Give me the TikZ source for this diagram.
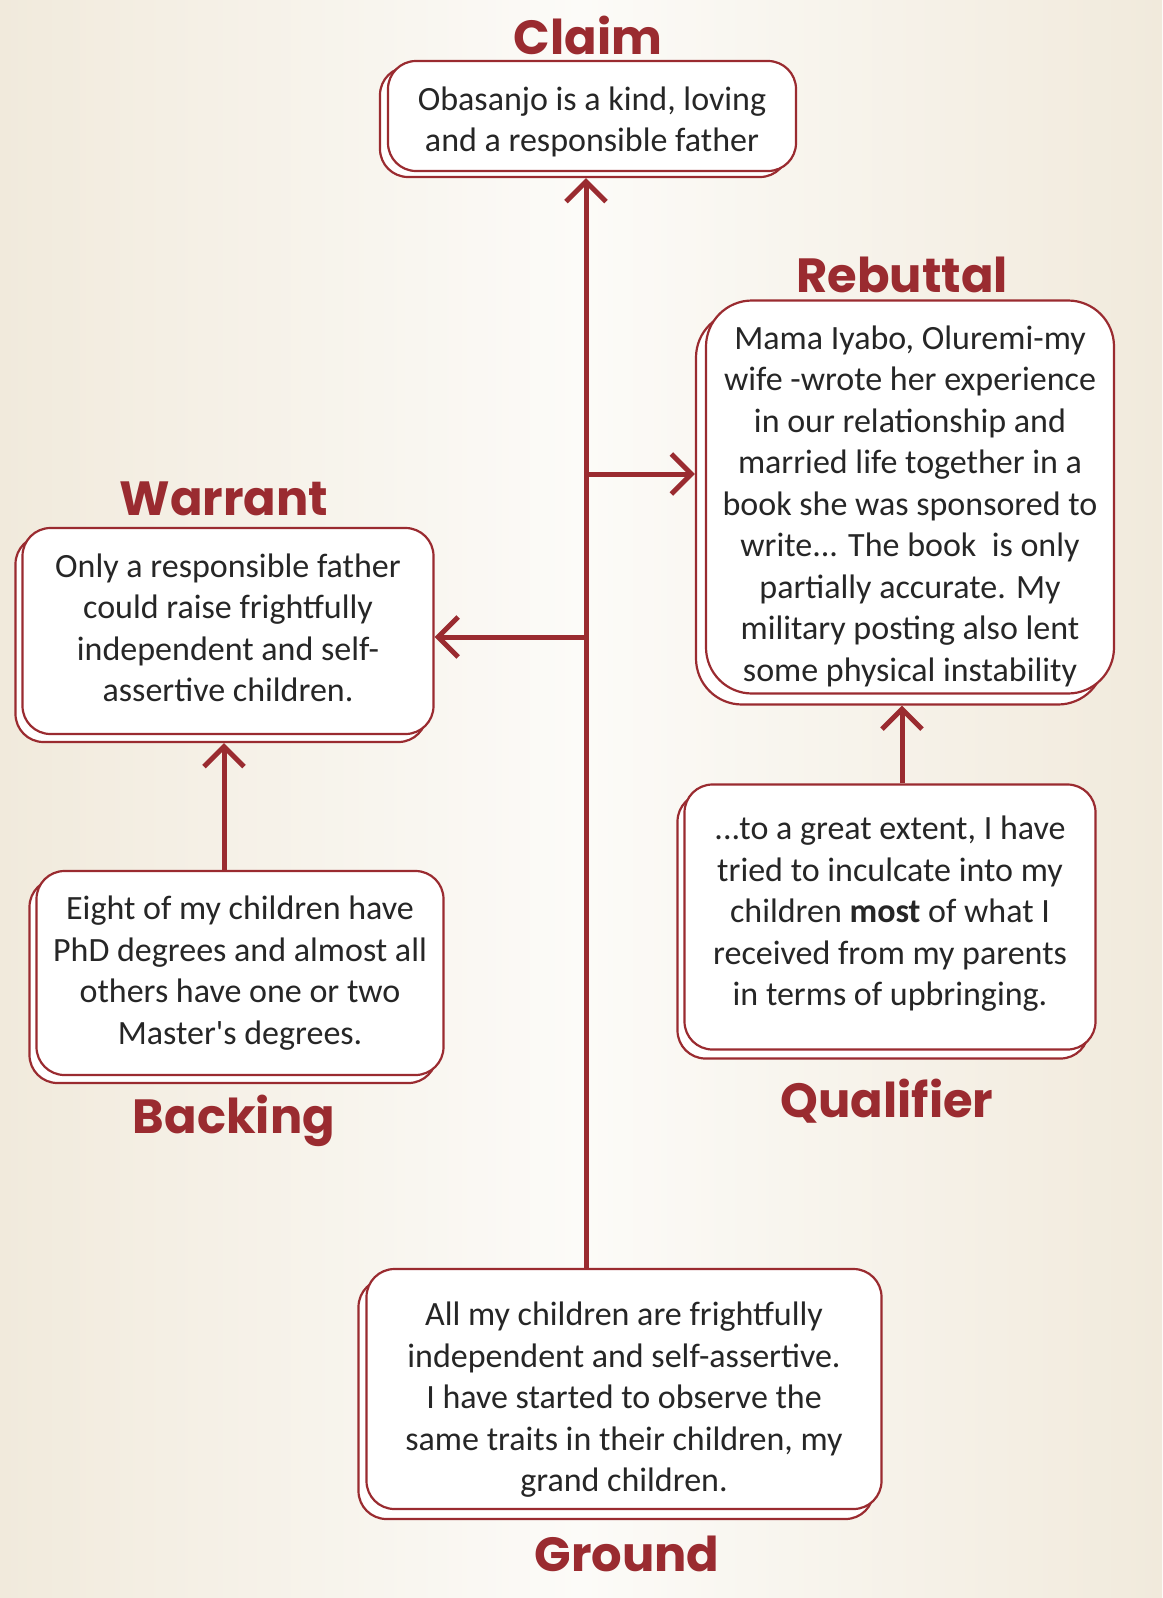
\documentclass[tikz,border=0pt]{standalone}
\usepackage{fontspec}
\setmainfont{Carlito}[Ligatures=TeXOff]
\newfontfamily\headfont{Poppins}
\usetikzlibrary{arrows.meta}
\definecolor{wine}{HTML}{9A2B30}
\definecolor{ink}{HTML}{262626}
\definecolor{bgedge}{HTML}{F1EADC}
\definecolor{bgmid}{HTML}{FCFBF8}
\begin{document}
\begin{tikzpicture}[x=1pt,y=-1pt,
  card/.style={draw=wine, line width=2.2pt, fill=white, rounded corners=28pt, inner sep=0pt},
  cardtext/.style={align=center, inner sep=0pt, text=ink, font=\fontsize{34}{41.5}\selectfont},
  heading/.style={text=wine, font=\headfont\bfseries\fontsize{48}{50}\selectfont, inner sep=0pt},
  conn/.style={draw=wine, line width=5pt, -{Straight Barb[length=20pt,width=40pt]}}]
  % page and background
  \useasboundingbox (0,0) rectangle (1162,1598);
  \shade[left color=bgedge, right color=bgedge, middle color=bgmid] (0,0) rectangle (1162,1598);

  % Claim
  \node[heading] (claimtitle) at (588,35) {Claim};
  \node[card, minimum width=408pt, minimum height=110pt] (claimback) at (584,122) {};
  \node[card, minimum width=408pt, minimum height=110pt] (claim) at (592,116) {};
  \node[cardtext] (claimtext) at ([yshift=-6pt]claim.center)
    {Obasanjo is a kind, loving\\and a responsible father};

  % Rebuttal
  \node[heading] (rebuttaltitle) at (902,275) {Rebuttal};
  \node[card, rounded corners=46pt, minimum width=408pt, minimum height=393pt] (rebuttalback) at (900,508) {};
  \node[card, rounded corners=46pt, minimum width=408pt, minimum height=393pt] (rebuttal) at (910,497) {};
  \node[cardtext] (rebuttaltext) at ([yshift=-9pt]rebuttal.center)
    {Mama Iyabo, Oluremi-my\\wife -wrote her experience\\in our relationship and\\married life together in a\\book she was sponsored to\\write... The book\ \ is only\\partially accurate. My\\military posting also lent\\some physical instability};

  % Warrant
  \node[heading] (warranttitle) at (224,499) {Warrant};
  \node[card, minimum width=411pt, minimum height=206pt] (warrantback) at (221,639) {};
  \node[card, minimum width=411pt, minimum height=206pt] (warrant) at (228,631) {};
  \node[cardtext] (warranttext) at ([yshift=3pt]warrant.center)
    {Only a responsible father\\could raise frightfully\\independent and self-\\assertive children.};

  % Backing
  \node[card, minimum width=407pt, minimum height=204pt] (backingback) at (233,981) {};
  \node[card, minimum width=407pt, minimum height=204pt] (backing) at (240,973) {};
  \node[cardtext] (backingtext) at (backing.center)
    {Eight of my children have\\PhD degrees and almost all\\others have one or two\\Master's degrees.};
  \node[heading] (backingtitle) at (234,1121) {Backing};

  % Qualifier
  \node[card, minimum width=411pt, minimum height=265pt] (qualifierback) at (883,926) {};
  \node[card, minimum width=411pt, minimum height=265pt] (qualifier) at (890,917) {};
  \node[cardtext] (qualifiertext) at ([yshift=3pt]qualifier.center)
    {...to a great extent, I have\\tried to inculcate into my\\children \textbf{most} of what I\\received from my parents\\in terms of upbringing.};
  \node[heading] (qualifiertitle) at (887,1101) {Qualifier};

  % Ground
  \node[card, minimum width=515pt, minimum height=240pt] (groundback) at (616,1399) {};
  \node[card, minimum width=515pt, minimum height=240pt] (ground) at (624,1389) {};
  \node[cardtext] (groundtext) at ([yshift=-11pt]ground.center)
    {All my children are frightfully\\independent and self-assertive.\\I have started to observe the\\same traits in their children, my\\grand children.};
  \node[heading] (groundtitle) at (627,1554) {Ground};

  % connectors
  \coordinate (sp) at (586,0);
  \coordinate (rj) at (586,474);
  \coordinate (wj) at (586,637);
  \coordinate (bx) at (224,0);
  \coordinate (qx) at (902,0);
  \draw[conn] (ground.north -| sp) -- (claimback.south -| sp);
  \draw[conn] (rj) -- (rj -| rebuttalback.west);
  \draw[conn] (wj) -- (wj -| warrant.east);
  \draw[conn] (backing.north -| bx) -- (warrantback.south -| bx);
  \draw[conn] (qualifier.north -| qx) -- (rebuttalback.south -| qx);
\end{tikzpicture}
\end{document}
